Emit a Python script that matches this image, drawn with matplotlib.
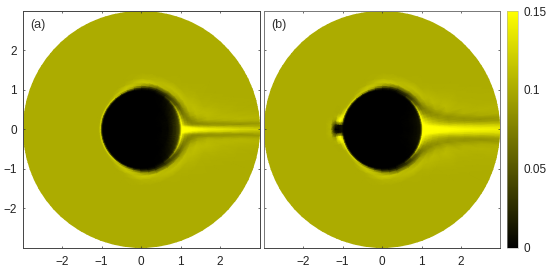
import matplotlib
matplotlib.use('Agg')
import matplotlib.pyplot as plt
import numpy as np
from matplotlib.colors import LinearSegmentedColormap
from matplotlib.patches import Circle

plt.rcParams['font.family'] = ['Liberation Sans', 'DejaVu Sans']

# values on a polar grid, upper half only (lower half is a mirror)
radii = [0, .35, .7, .9, .97, 1.0, 1.03, 1.07, 1.12, 1.2, 1.3, 1.45, 1.7, 2.1, 2.5, 3.2]
angles = [0, 1.5, 3, 4.5, 6, 8, 11, 15, 20, 27, 35, 45, 55, 70, 80, 90, 100, 110, 120, 130, 140, 150, 160, 165, 170, 175, 180]

field_a = [
    [0, 0, .005, .03, .05, .09, .15, .15, .15, .15, .15, .148, .14, .135, .128, .12],
    [0, 0, .005, .03, .05, .09, .15, .15, .15, .15, .148, .14, .13, .12, .11, .10],
    [0, 0, .005, .03, .05, .09, .15, .15, .15, .145, .13, .115, .10, .09, .085, .092],
    [0, 0, .005, .03, .05, .09, .15, .15, .135, .115, .10, .09, .085, .088, .10, .106],
    [0, 0, .005, .03, .05, .09, .15, .13, .11, .095, .083, .08, .09, .103, .108, .105],
    [0, 0, .005, .03, .05, .09, .15, .12, .10, .085, .078, .09, .105, .108, .106, .102],
    [0, 0, .005, .028, .048, .09, .145, .115, .09, .075, .082, .10, .11, .106, .103, .101],
    [0, 0, .005, .026, .045, .08, .135, .10, .08, .075, .095, .11, .11, .104, .102, .101],
    [0, 0, .004, .022, .04, .07, .125, .09, .07, .08, .105, .112, .105, .102, .101, .101],
    [0, 0, .003, .018, .032, .055, .11, .075, .06, .085, .11, .11, .103, .101, .101, .101],
    [0, 0, .002, .012, .02, .035, .085, .055, .05, .09, .112, .106, .102, .101, .101, .101],
    [0, 0, .001, .006, .012, .02, .05, .04, .05, .10, .113, .103, .101, .101, .101, .101],
    [0, 0, 0, .002, .004, .008, .02, .025, .05, .105, .112, .102, .101, .101, .101, .101],
    [0, 0, 0, 0, 0, .002, .005, .02, .06, .112, .108, .101, .101, .101, .101, .101],
    [0, 0, 0, 0, 0, .002, .008, .03, .08, .118, .106, .101, .101, .101, .101, .101],
    [0, 0, 0, 0, 0, .002, .01, .05, .10, .118, .105, .101, .101, .101, .101, .101],
    [0, 0, 0, 0, 0, .003, .03, .09, .115, .11, .102, .101, .101, .101, .101, .101],
    [0, 0, 0, 0, 0, .005, .06, .115, .118, .103, .101, .101, .101, .101, .101, .101],
    [0, 0, 0, 0, 0, .01, .09, .12, .108, .101, .101, .101, .101, .101, .101, .101],
    [0, 0, 0, 0, 0, .02, .125, .11, .101, .101, .101, .101, .101, .101, .101, .101],
    [0, 0, 0, 0, 0, .03, .125, .104, .101, .101, .101, .101, .101, .101, .101, .101],
    [0, 0, 0, 0, 0, .03, .125, .103, .101, .101, .101, .101, .101, .101, .101, .101],
    [0, 0, 0, 0, 0, .03, .125, .102, .101, .101, .101, .101, .101, .101, .101, .101],
    [0, 0, 0, 0, 0, .03, .125, .102, .101, .101, .101, .101, .101, .101, .101, .101],
    [0, 0, 0, 0, 0, .03, .125, .102, .101, .101, .101, .101, .101, .101, .101, .101],
    [0, 0, 0, 0, 0, .03, .125, .102, .101, .101, .101, .101, .101, .101, .101, .101],
    [0, 0, 0, 0, 0, .03, .125, .102, .101, .101, .101, .101, .101, .101, .101, .101],
]

field_b = [
    [0, 0, .002, .008, .015, .05, .15, .15, .15, .15, .15, .15, .15, .148, .145, .14],
    [0, 0, .002, .008, .015, .05, .15, .15, .15, .15, .15, .15, .148, .14, .135, .13],
    [0, 0, .002, .008, .015, .05, .15, .15, .15, .15, .15, .148, .135, .125, .115, .108],
    [0, 0, .002, .008, .015, .05, .15, .15, .15, .15, .145, .13, .118, .105, .095, .09],
    [0, 0, .002, .008, .015, .05, .15, .15, .15, .14, .13, .12, .103, .09, .086, .095],
    [0, 0, .002, .008, .015, .05, .15, .15, .14, .13, .118, .105, .09, .087, .10, .106],
    [0, 0, .002, .008, .015, .05, .15, .14, .13, .118, .105, .092, .085, .104, .106, .104],
    [0, 0, .002, .008, .015, .05, .15, .13, .115, .10, .088, .083, .105, .106, .103, .102],
    [0, 0, .002, .006, .012, .045, .145, .115, .095, .083, .08, .10, .11, .103, .102, .101],
    [0, 0, .001, .004, .008, .035, .125, .09, .072, .075, .095, .11, .106, .102, .101, .101],
    [0, 0, .001, .002, .004, .022, .095, .065, .058, .09, .108, .108, .102, .101, .101, .101],
    [0, 0, 0, .001, .002, .012, .055, .04, .05, .095, .112, .103, .101, .101, .101, .101],
    [0, 0, 0, 0, .001, .006, .025, .025, .05, .105, .112, .102, .101, .101, .101, .101],
    [0, 0, 0, 0, 0, .002, .005, .02, .06, .112, .108, .101, .101, .101, .101, .101],
    [0, 0, 0, 0, 0, .002, .008, .03, .08, .118, .106, .101, .101, .101, .101, .101],
    [0, 0, 0, 0, 0, .002, .01, .05, .10, .118, .105, .101, .101, .101, .101, .101],
    [0, 0, 0, 0, 0, .003, .03, .09, .115, .11, .102, .101, .101, .101, .101, .101],
    [0, 0, 0, 0, 0, .005, .06, .115, .118, .103, .101, .101, .101, .101, .101, .101],
    [0, 0, 0, 0, 0, .01, .09, .12, .108, .101, .101, .101, .101, .101, .101, .101],
    [0, 0, 0, 0, 0, .02, .125, .11, .101, .101, .101, .101, .101, .101, .101, .101],
    [0, 0, 0, 0, 0, .03, .125, .104, .101, .101, .101, .101, .101, .101, .101, .101],
    [0, 0, 0, 0, 0, .03, .13, .106, .101, .101, .101, .101, .101, .101, .101, .101],
    [0, 0, 0, 0, 0, .04, .14, .13, .105, .10, .101, .101, .101, .101, .101, .101],
    [0, 0, 0, 0, 0, .04, .14, .15, .135, .105, .101, .101, .101, .101, .101, .101],
    [0, 0, 0, 0, 0, .03, .11, .15, .15, .09, .104, .101, .101, .101, .101, .101],
    [0, 0, 0, 0, 0, .005, .01, .01, .01, .03, .108, .101, .101, .101, .101, .101],
    [0, 0, 0, 0, 0, .005, .01, .005, 0, 0, .105, .101, .101, .101, .101, .101],
]

xticks = [-2, -1, 0, 1, 2]
yticks = [-2, -1, 0, 1, 2]
cbar_ticks = [0, 0.05, 0.1, 0.15]
cbar_labels = ['0', '0.05', '0.1', '0.15']
panel_labels = ['(a)', '(b)']

W, H = 550, 269
cmap = LinearSegmentedColormap.from_list('blackyellow', ['#000000', '#ffff00'])


def add_panel(left, right, top, bottom):
    return fig.add_axes([left / W, 1 - bottom / H, (right - left) / W, (bottom - top) / H])


def draw_field(ax, field):
    # mirror the upper half, then lay the table out on the disc
    theta = np.radians(angles)
    theta = np.concatenate([-theta[::-1], theta[1:]])
    field = np.array(field)
    values = np.vstack([field[::-1], field[1:]])
    r_grid, t_grid = np.meshgrid(radii, theta)
    x = r_grid * np.cos(t_grid)
    y = r_grid * np.sin(t_grid)
    mesh = ax.pcolormesh(x, y, values, shading='gouraud', cmap=cmap, vmin=0, vmax=0.15)
    mesh.set_clip_path(Circle((0, 0), 3, transform=ax.transData))
    return mesh


fig = plt.figure(figsize=(W / 100, H / 100), dpi=100)
ax_a = add_panel(22.5, 259.5, 11, 247.5)
ax_b = add_panel(263.5, 500.5, 11, 247.5)
cax = add_panel(507, 518, 11, 247.5)

for ax, field, label in zip([ax_a, ax_b], [field_a, field_b], panel_labels):
    mesh = draw_field(ax, field)
    ax.set_xlim(-3, 3)
    ax.set_ylim(-3, 3)
    ax.set_xticks(xticks)
    ax.set_yticks(yticks)
    ax.tick_params(direction='in', length=1.5, width=0.5, color='#333333', top=True, right=True,
                   labelsize=8.5, labelcolor='#222222')
    ax.tick_params(axis='x', pad=6)
    ax.tick_params(axis='y', pad=4)
    for spine in ax.spines.values():
        spine.set_linewidth(0.7)
        spine.set_color('#444444')
    ax.annotate(label, xy=(0, 1), xycoords='axes fraction', xytext=(7.5, -14), textcoords='offset pixels',
                fontsize=9, color='#333333', va='center')

ax_b.tick_params(labelleft=False)
for side in ['left', 'right', 'top']:
    ax_b.spines[side].set_color('#777777')

cbar = fig.colorbar(mesh, cax=cax)
cbar.set_ticks(cbar_ticks)
cbar.set_ticklabels(cbar_labels)
cbar.ax.tick_params(length=0, labelsize=8.5, pad=4, labelcolor='#222222')
cbar.outline.set_linewidth(0.4)
cbar.outline.set_edgecolor('#aaaaaa')

fig.savefig('out.png', dpi=100)
